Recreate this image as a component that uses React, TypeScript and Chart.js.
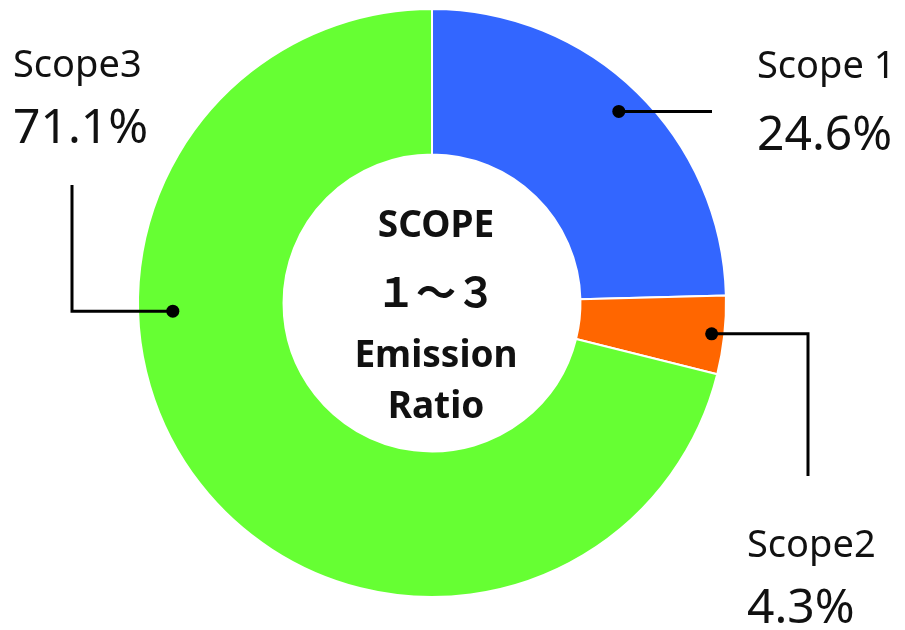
import React, { useEffect, useRef } from "react";
import { Chart, registerables } from "chart.js";

Chart.register(...registerables);

const categories = ["Scope 1", "Scope2", "Scope3"];
const shares = [24.6, 4.3, 71.1];
const shareLabels = ["24.6%", "4.3%", "71.1%"];
const sliceColors = ["#3366FF", "#FF6600", "#66FF33"];
const centerLines = ["SCOPE", "１～３", "Emission", "Ratio"];

// annotation layout (per slice): dot angle (deg from top, null = slice middle), dot radius fraction,
// leader polyline (canvas px), label position
const leaders = [
  { angleDeg: null as number | null, rFrac: 0.91, path: [[712, 110]], labelX: 757, nameY: 78, pctY: 150 },
  { angleDeg: null as number | null, rFrac: 0.957, path: [[808, 330], [808, 476]], labelX: 747, nameY: 557, pctY: 623 },
  { angleDeg: 268.2 as number | null, rFrac: 0.882, path: [[72, 311], [72, 185]], labelX: 13, nameY: 77, pctY: 143 },
];

const annotPlugin = {
  id: "annot",
  afterDraw(chart: any) {
    const ctx = chart.ctx;
    const meta = chart.getDatasetMeta(0);
    ctx.save();
    const a0 = meta.data[0];
    const cx = a0.x + 4;
    ctx.fillStyle = "#111";
    ctx.textAlign = "center";
    ctx.textBaseline = "alphabetic";
    const ys = [237, 307, 367, 418];
    centerLines.forEach((t, i) => {
      ctx.font = i === 1 ? "bold 40px 'Noto Sans CJK JP'" : "bold 37px 'Noto Sans'";
      ctx.fillText(t, cx, ys[i]);
    });
    meta.data.forEach((arc: any, i: number) => {
      const L = leaders[i];
      const ang = L.angleDeg !== null
        ? (L.angleDeg - 90) * Math.PI / 180
        : (arc.startAngle + arc.endAngle) / 2;
      const r = arc.outerRadius * L.rFrac;
      const dx = arc.x + Math.cos(ang) * r;
      const dy = arc.y + Math.sin(ang) * r;
      ctx.strokeStyle = "#000";
      ctx.lineWidth = 3;
      ctx.lineJoin = "miter";
      ctx.beginPath();
      ctx.moveTo(dx, dy);
      L.path.forEach((p, k) => ctx.lineTo(p[0], k === 0 ? dy : p[1]));
      ctx.stroke();
      ctx.fillStyle = "#000";
      ctx.beginPath();
      ctx.arc(dx, dy, 6.5, 0, Math.PI * 2);
      ctx.fill();
      ctx.fillStyle = "#111";
      ctx.textAlign = "left";
      ctx.font = "38px 'Noto Sans'";
      ctx.fillText(categories[i], L.labelX, L.nameY);
      ctx.font = "48px 'Noto Sans'";
      ctx.fillText(shareLabels[i], L.labelX, L.pctY);
    });
    ctx.restore();
  },
};

export default function App() {
  const ref = useRef<HTMLCanvasElement>(null);
  useEffect(() => {
    if (!ref.current) return;
    const chart = new Chart(ref.current, {
      type: "doughnut",
      data: {
        labels: categories,
        datasets: [
          {
            data: shares,
            backgroundColor: sliceColors,
            borderColor: "#ffffff",
            borderWidth: 2,
          },
        ],
      },
      options: {
        animation: false,
        responsive: true,
        maintainAspectRatio: false,
        cutout: "50.5%",
        layout: { padding: { left: 137, right: 178, top: 8, bottom: 32 } },
        plugins: { legend: { display: false }, tooltip: { enabled: false } },
      },
      plugins: [annotPlugin],
    });
    return () => chart.destroy();
  }, []);
  return (
    <div style={{ position: "fixed", left: 0, top: 0, width: 905, height: 630, background: "#fff" }}>
      <canvas ref={ref} />
    </div>
  );
}
